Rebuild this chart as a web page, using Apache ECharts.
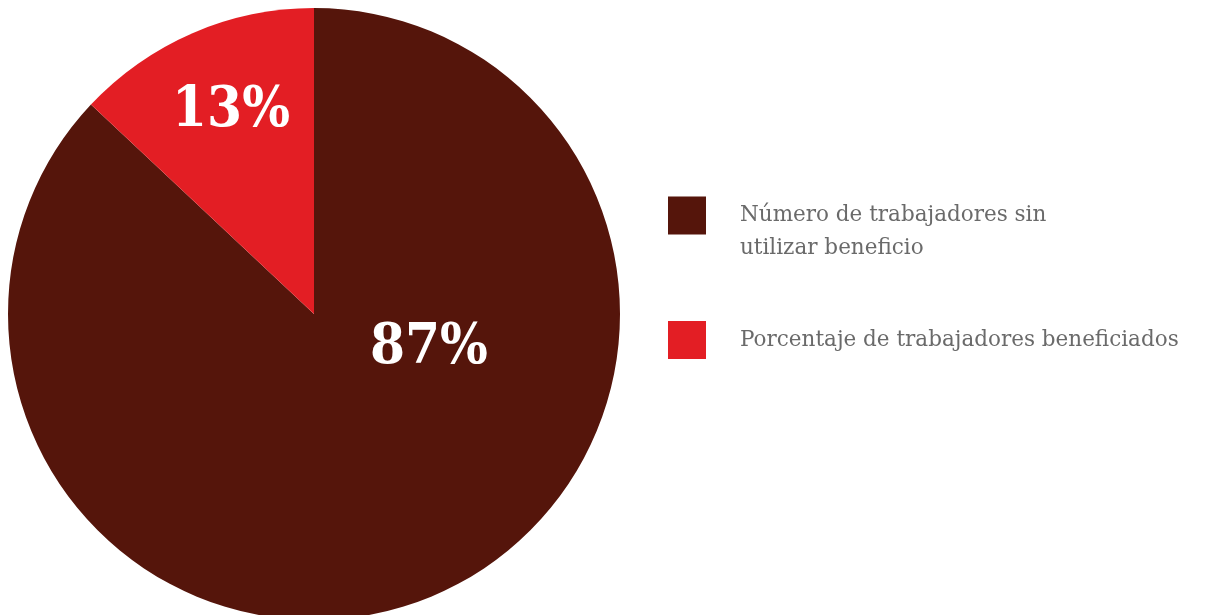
<!DOCTYPE html>
<html>
<head>
<meta charset="utf-8">
<script src="https://cdn.jsdelivr.net/npm/echarts@6/dist/echarts.min.js"></script>
<style>
html,body{margin:0;padding:0;background:#fff;}
#chart{width:1208px;height:615px;}
</style>
</head>
<body>
<div id="chart"></div>
<script>
const categories = ['Número de trabajadores sin utilizar beneficio', 'Porcentaje de trabajadores beneficiados'];
const legendLabels = [' \nNúmero de trabajadores sin\nutilizar beneficio', 'Porcentaje de trabajadores beneficiados'];
const values = [87, 13];
const colors = ['#55150b', '#e31e24'];
const labelOffsets = [[53, -109], [-21, -59]];

const chart = echarts.init(document.getElementById('chart'));
chart.setOption({
  animation: false,
  legend: {
    orient: 'vertical',
    left: 663,
    top: 161,
    itemWidth: 38,
    itemHeight: 38,
    itemGap: 56,
    icon: 'rect',
    selectedMode: false,
    data: categories,
    formatter: name => legendLabels[categories.indexOf(name)],
    textStyle: {
      fontFamily: 'DejaVu Serif',
      fontSize: 21.5,
      color: '#6a6a6a',
      lineHeight: 33,
      padding: [0, 0, 0, 29]
    }
  },
  series: [{
    type: 'pie',
    center: [314, 314],
    radius: 306,
    startAngle: 90,
    clockwise: true,
    emphasis: { disabled: true },
    data: categories.map((c, i) => ({
      name: c,
      value: values[i],
      itemStyle: { color: colors[i] },
      label: { offset: labelOffsets[i] }
    })),
    label: {
      show: true,
      position: 'inside',
      formatter: '{c}%',
      color: '#ffffff',
      fontFamily: "'DejaVu Serif Condensed', 'DejaVu Serif'",
      fontWeight: 'bold',
      fontSize: 56,
      letterSpacing: -2
    },
    labelLine: { show: false }
  }]
});
</script>
</body>
</html>
